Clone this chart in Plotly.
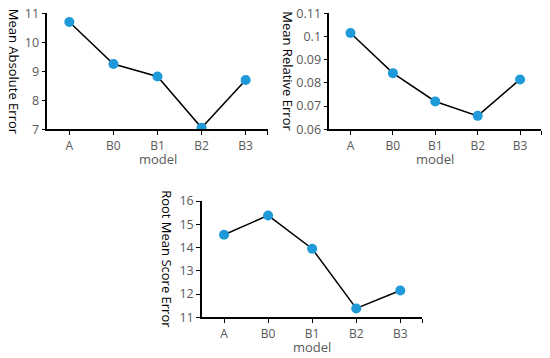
import plotly.graph_objects as go

models = ["A", "B0", "B1", "B2", "B3"]
mae = [10.7, 9.25, 8.82, 7.05, 8.7]
mre = [0.1015, 0.0842, 0.072, 0.0658, 0.0815]
rmse = [14.55, 15.38, 13.95, 11.38, 12.15]

y_titles = ["Mean Absolute Error", "Mean Relative Error", "Root Mean Score Error"]
y_ranges = [[7, 11], [0.06, 0.11], [11, 16]]
y_dticks = [1, 0.01, 1]

OFF = 8  # page body margin
W, H = 550 - OFF, 358 - OFF
# pixel boxes in window coords (left, right, top, bottom)
boxes = [(47.3, 267.7, 13.3, 129.3), (329.3, 541.3, 13.3, 129.3), (202, 422.3, 201, 317.3)]
ytitle_x = [13.5, 288, 167]
model_y = [159, 159, 347]

MARK = "#1e9ad8"
TICK = "#595959"
FONT = "Open Sans"


def px(v):
    return (v - OFF) / W


def py(v):
    return 1 - (v - OFF) / H


fig = go.Figure()
idx = list(range(len(models)))
series = [mae, mre, rmse]
for i, vals in enumerate(series):
    sfx = "" if i == 0 else str(i + 1)
    fig.add_trace(go.Scatter(
        x=idx, y=vals, mode="lines+markers",
        line=dict(color="black", width=1.5),
        marker=dict(color=MARK, size=10),
        xaxis="x" + sfx, yaxis="y" + sfx, showlegend=False, hoverinfo="skip"))
    l, r, t, b = boxes[i]
    xa = dict(domain=[px(l), px(r)], range=[-0.5, len(models) - 0.5],
              tickvals=idx + [len(models) - 0.5], ticktext=models + [""],
              showgrid=False, zeroline=False, showline=True, linecolor="black", linewidth=1.5,
              ticks="outside", ticklen=4, tickcolor="black", tickwidth=1.2,
              automargin=False, ticklabelstandoff=1, ticklabeloverflow="allow",
              tickfont=dict(family=FONT, size=12, color=TICK),
              anchor="y" + sfx, fixedrange=True)
    ya = dict(domain=[py(b), py(t)], range=y_ranges[i], dtick=y_dticks[i],
              tick0=y_ranges[i][0], automargin=False, ticklabeloverflow="allow",
              showgrid=False, zeroline=False, showline=True, linecolor="black", linewidth=1.5,
              ticks="outside", ticklen=4, tickcolor="black", tickwidth=1.2,
              tickfont=dict(family=FONT, size=12.5, color=TICK),
              anchor="x" + sfx, fixedrange=True)
    fig.layout["xaxis" + sfx] = xa
    fig.layout["yaxis" + sfx] = ya
    fig.add_annotation(text=y_titles[i], x=px(ytitle_x[i]), y=py((t + b) / 2),
                       xref="paper", yref="paper", textangle=90, showarrow=False,
                       xanchor="center", yanchor="middle",
                       font=dict(family=FONT, size=13, color="black"))
    fig.add_annotation(text="model", x=px((l + r) / 2), y=py(model_y[i]),
                       xref="paper", yref="paper", showarrow=False,
                       xanchor="center", yanchor="middle",
                       font=dict(family=FONT, size=13, color=TICK))

fig.update_layout(width=W, height=H, margin=dict(l=0, r=0, t=0, b=0),
                  plot_bgcolor="white", paper_bgcolor="white")
fig.write_html("out.html")
